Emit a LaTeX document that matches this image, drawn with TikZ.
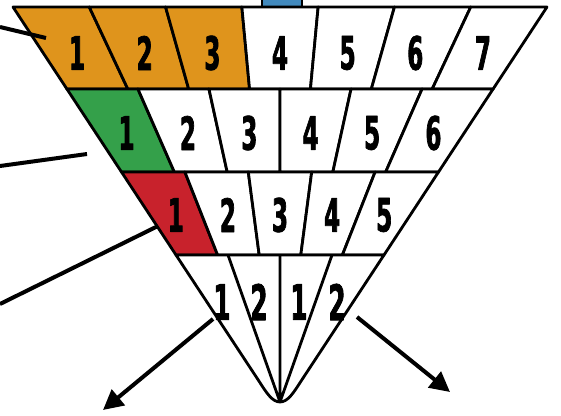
\documentclass[tikz,border=0pt]{standalone}
\usepackage{fontspec}
\newfontfamily\numfont[FakeStretch=0.5,FakeBold=1.5]{DejaVu Sans Bold}
\usetikzlibrary{arrows.meta}
\definecolor{orangec}{RGB}{223,148,28}
\definecolor{greenc}{RGB}{52,160,74}
\definecolor{redc}{RGB}{200,34,44}
\definecolor{bluec}{RGB}{66,138,190}
\begin{document}
\begin{tikzpicture}[x=1pt,y=-1pt,line join=round,
  cellline/.style={draw=black,line width=2.8pt},
  numlabel/.style={font=\numfont\fontsize{46}{46}\selectfont,inner sep=0pt,anchor=center},
  biglabel/.style={numlabel,font=\numfont\fontsize{49}{49}\selectfont},
  pointer/.style={draw=black,line width=4pt},
  arrowline/.style={pointer,-{Triangle[length=20pt,width=20pt]}}]
\useasboundingbox (0,0) rectangle (561,415);
% blue tab above the funnel
\draw[cellline,fill=bluec] (262,-4) rectangle (302,7);
% three upper rows
\foreach \r/\n/\yt/\yb/\xt/\wt/\xbl/\wb/\yl/\cc/\kk in
  {1/7/7/89/13/534/66.9/426.2/53/orangec/3,
   2/6/89/172/66.9/426.2/121.5/317/133/greenc/1,
   3/5/172/255/121.5/317/176/208/215/redc/1} {
  \foreach \i in {1,...,\n} {
    \pgfmathsetmacro\xa{\xt+(\i-1)*\wt/\n}
    \pgfmathsetmacro\xb{\xt+\i*\wt/\n}
    \pgfmathsetmacro\xc{\xbl+\i*\wb/\n}
    \pgfmathsetmacro\xd{\xbl+(\i-1)*\wb/\n}
    \pgfmathsetmacro\fr{(\yl-\yt)/(\yb-\yt)}
    \pgfmathsetmacro\xm{(\xa+(\xd-\xa)*\fr+\xb+(\xc-\xb)*\fr)/2}
    \ifnum\i>\kk \def\fc{white}\else\def\fc{\cc}\fi
    \draw[cellline,fill=\fc] (\xa,\yt) -- (\xb,\yt) -- (\xc,\yb) -- (\xd,\yb) -- cycle;
    \node[numlabel] (r\r c\i) at (\xm,\yl) {\i};
  }
}
% bottom row (rounded tip)
\coordinate (tip) at (280,402);
\draw[cellline,fill=white] (176,255) -- (258.9,381) .. controls (266,392) and (272,402) .. (tip)
  .. controls (288,402) and (294,392) .. (301.1,381) -- (384,255) -- cycle;
\coordinate (b2) at (228,255);
\coordinate (b3) at (280,255);
\coordinate (b4) at (332,255);
\draw[cellline] (b2) -- (tip) (b3) -- (tip) (b4) -- (tip);
\node[biglabel] (r4c1) at (222,302) {1};
\node[biglabel] (r4c2) at (259,302) {2};
\node[biglabel] (r4c3) at (299,302) {1};
\node[biglabel] (r4c4) at (337,302) {2};
% pointers
\coordinate (p1a) at (0,27);   \coordinate (p1b) at (46,38);
\coordinate (p2a) at (0,166);  \coordinate (p2b) at (87,154);
\coordinate (p3a) at (0,304);  \coordinate (p3b) at (158,226);
\draw[pointer] (p1a) -- (p1b);
\draw[pointer] (p2a) -- (p2b);
\draw[pointer] (p3a) -- (p3b);
% arrows
\coordinate (a1s) at (213,319); \coordinate (a1e) at (103,410);
\coordinate (a2s) at (357,317); \coordinate (a2e) at (450,392);
\draw[arrowline] (a1s) -- (a1e);
\draw[arrowline] (a2s) -- (a2e);
\end{tikzpicture}
\end{document}
